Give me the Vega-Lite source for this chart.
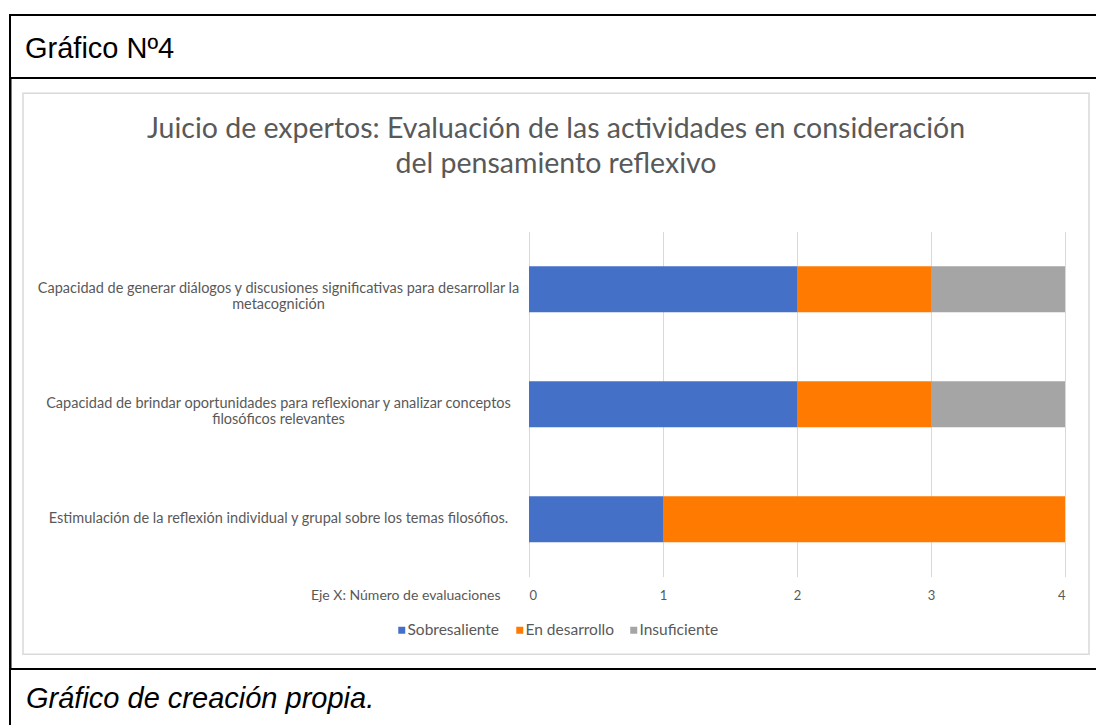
{
  "$schema": "https://vega.github.io/schema/vega-lite/v6.json",
  "padding": {"left": 9, "top": 14, "right": 0, "bottom": 0},
  "background": "white",
  "config": {
    "view": {"stroke": "black", "strokeWidth": 2},
    "font": "Lato"
  },
  "spacing": 0,
  "resolve": {"scale": {"color": "independent"}, "legend": {"color": "independent"}},
  "vconcat": [
    {
      "width": 1100,
      "height": 63,
      "data": {"values": [{"v": 0, "t": ""}]},
      "mark": {"type": "text"},
      "encoding": {"x": {"field": "v", "type": "quantitative", "axis": null}, "text": {"field": "t"}},
      "title": {
        "text": "Gráfico Nº4",
        "orient": "top",
        "anchor": "start",
        "frame": "group",
        "offset": -72,
        "dx": 15,
        "baseline": "alphabetic",
        "font": "Liberation Sans",
        "fontSize": 29,
        "fontWeight": "normal",
        "color": "black"
      }
    },
    {
      "spacing": 10,
      "center": true,
      "resolve": {"scale": {"color": "independent"}, "legend": {"color": "independent"}},
      "hconcat": [
        {
          "width": 0.5,
          "height": 587,
          "data": {"values": [{"v": 0, "t": ""}]},
          "mark": {"type": "text"},
          "encoding": {"y": {"field": "v", "type": "quantitative", "axis": null, "scale": {"domain": [-1, 1]}}, "text": {"field": "t"}}
        },
        {
          "width": 1066,
          "height": 561,
          "view": {"stroke": "#d9d9d9", "strokeWidth": 1.5},
          "data": {
            "values": [
              {"criterio": "Capacidad de generar diálogos y discusiones significativas para desarrollar la metacognición", "nivel": "Sobresaliente", "orden": 1, "evaluaciones": 2},
              {"criterio": "Capacidad de generar diálogos y discusiones significativas para desarrollar la metacognición", "nivel": "En desarrollo", "orden": 2, "evaluaciones": 1},
              {"criterio": "Capacidad de generar diálogos y discusiones significativas para desarrollar la metacognición", "nivel": "Insuficiente", "orden": 3, "evaluaciones": 1},
              {"criterio": "Capacidad de brindar oportunidades para reflexionar y analizar conceptos filosóficos relevantes", "nivel": "Sobresaliente", "orden": 1, "evaluaciones": 2},
              {"criterio": "Capacidad de brindar oportunidades para reflexionar y analizar conceptos filosóficos relevantes", "nivel": "En desarrollo", "orden": 2, "evaluaciones": 1},
              {"criterio": "Capacidad de brindar oportunidades para reflexionar y analizar conceptos filosóficos relevantes", "nivel": "Insuficiente", "orden": 3, "evaluaciones": 1},
              {"criterio": "Estimulación de la reflexión individual y grupal sobre los temas filosófios.", "nivel": "Sobresaliente", "orden": 1, "evaluaciones": 1},
              {"criterio": "Estimulación de la reflexión individual y grupal sobre los temas filosófios.", "nivel": "En desarrollo", "orden": 2, "evaluaciones": 3},
              {"criterio": "Estimulación de la reflexión individual y grupal sobre los temas filosófios.", "nivel": "Insuficiente", "orden": 3, "evaluaciones": 0}
            ]
          },
          "title": {
            "text": ["Juicio de expertos: Evaluación de las actividades en consideración", "del pensamiento reflexivo"],
            "orient": "top",
            "anchor": "middle",
            "frame": "group",
            "offset": -85,
            "baseline": "top",
            "font": "Lato",
            "fontSize": 28.5,
            "fontWeight": "normal",
            "color": "#595959",
            "lineHeight": 35
          },
          "mark": {"type": "bar"},
          "encoding": {
            "y": {
              "field": "criterio",
              "type": "nominal",
              "sort": null,
              "scale": {"range": [138.5, 483.5], "paddingInner": 0.6, "paddingOuter": 0.3},
              "axis": {
                "orient": "left",
                "offset": -506,
                "title": null,
                "domain": false,
                "ticks": false,
                "tickSize": 0,
                "grid": false,
                "labelAlign": "center",
                "labelBaseline": "middle",
                "labelPadding": 251,
                "labelLimit": 0,
                "labelFont": "Lato",
                "labelFontSize": 14.5,
                "labelColor": "#595959",
                "labelLineHeight": 16,
                "labelExpr": "split(replace(replace(datum.label, ' metacognición', '|metacognición'), ' filosóficos relevantes', '|filosóficos relevantes'), '|')"
              }
            },
            "x": {
              "field": "evaluaciones",
              "type": "quantitative",
              "stack": "zero",
              "scale": {"domain": [0, 4], "range": [506, 1042], "nice": false},
              "axis": {
                "orient": "top",
                "offset": -483.5,
                "values": [0, 1, 2, 3, 4],
                "domain": false,
                "ticks": false,
                "tickSize": 0,
                "grid": true,
                "gridColor": "#d9d9d9",
                "gridWidth": 1,
                "labelPadding": -18.5,
                "labelBaseline": "middle",
                "labelFont": "Lato",
                "labelFontSize": 13,
                "labelColor": "#595959",
                "title": "Eje X: Número de evaluaciones",
                "titleX": 477,
                "titleY": 18.5,
                "titleAlign": "right",
                "titleBaseline": "middle",
                "titleFont": "Lato",
                "titleFontSize": 14,
                "titleFontWeight": "normal",
                "titleColor": "#595959"
              }
            },
            "color": {
              "field": "nivel",
              "type": "nominal",
              "scale": {"domain": ["Sobresaliente", "En desarrollo", "Insuficiente"], "range": ["#4470C8", "#FF7A00", "#A5A5A5"]},
              "legend": {
                "orient": "none",
                "legendX": 371,
                "legendY": 529,
                "direction": "horizontal",
                "title": null,
                "symbolType": "square",
                "symbolSize": 49,
                "symbolStrokeWidth": 0,
                "labelFont": "Lato",
                "labelFontSize": 15.5,
                "labelColor": "#595959",
                "labelOffset": -2,
                "columnPadding": 12
              }
            },
            "order": {"field": "orden", "type": "quantitative"}
          }
        }
      ]
    },
    {
      "width": 1100,
      "height": 70,
      "data": {"values": [{"v": 0, "t": ""}]},
      "mark": {"type": "text"},
      "encoding": {"x": {"field": "v", "type": "quantitative", "axis": null}, "text": {"field": "t"}},
      "title": {
        "text": "Gráfico de creación propia.",
        "orient": "top",
        "anchor": "start",
        "frame": "group",
        "offset": -68,
        "dx": 16,
        "baseline": "alphabetic",
        "font": "Liberation Sans",
        "fontSize": 29,
        "fontStyle": "italic",
        "fontWeight": "normal",
        "color": "black"
      }
    }
  ]
}
